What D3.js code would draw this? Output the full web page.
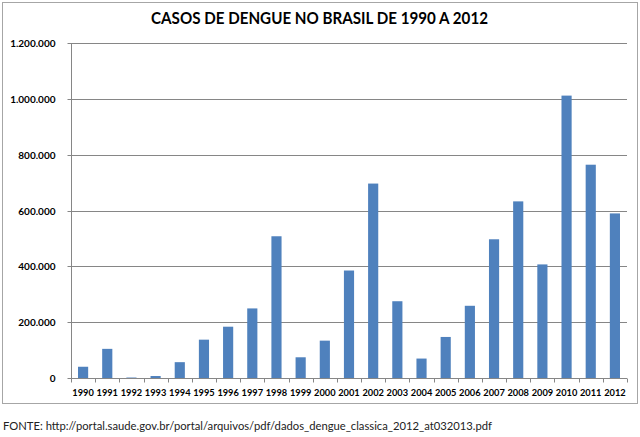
<!DOCTYPE html>
<html>
<head>
<meta charset="utf-8">
<script src="https://cdn.jsdelivr.net/npm/d3@7"></script>
<style>
html,body{margin:0;padding:0;background:#fff;}
svg{display:block;}
</style>
</head>
<body>
<svg id="chart" width="640" height="437"></svg>
<script>
const years = ["1990","1991","1992","1993","1994","1995","1996","1997","1998","1999","2000","2001","2002","2003","2004","2005","2006","2007","2008","2009","2010","2011","2012"];
const cases = [40279,104398,1696,7086,56691,137308,183762,249239,507715,74219,133800,385000,696472,274975,69635,147039,258680,496923,632680,406882,1011548,764032,589591];
const yTicks = [0,200000,400000,600000,800000,1000000,1200000];
const titleText = "CASOS DE DENGUE NO BRASIL DE 1990 A 2012";
const sourceText = "FONTE: http://portal.saude.gov.br/portal/arquivos/pdf/dados_dengue_classica_2012_at032013.pdf";

const svg = d3.select("#chart");
const font = "Lato, 'Open Sans', sans-serif";

// outer chart border
svg.append("rect").attr("x",2.5).attr("y",2.5).attr("width",635).attr("height",401)
  .attr("fill","#fff").attr("stroke","#a6a6a6").attr("stroke-width",1);

const x = d3.scaleBand().domain(years).range([71,627]).paddingInner(0.58).paddingOuter(0.29);
const y = d3.scaleLinear().domain([0,1200000]).range([378,43]);

const fmt = v => d3.format(",")(v).replace(/,/g,".");

// gridlines
svg.append("g").selectAll("line").data(yTicks.filter(d=>d>0)).join("line")
  .attr("x1",71).attr("x2",627)
  .attr("y1",d=>Math.round(y(d))+0.5).attr("y2",d=>Math.round(y(d))+0.5)
  .attr("stroke","#868686").attr("stroke-width",1);

// y axis
const yAxis = d3.axisLeft(y).tickValues(yTicks).tickFormat(fmt).tickSize(4).tickPadding(12);
const gy = svg.append("g").attr("transform","translate(71.5,0.5)").call(yAxis);
gy.select(".domain").attr("stroke","#868686").attr("d","M0,"+y(1200000)+"V"+y(0));
gy.selectAll(".tick line").attr("stroke","#868686");
gy.selectAll(".tick text").attr("font-family",font).attr("font-weight","bold")
  .attr("font-size","10px").attr("fill","#000");
gy.selectAll(".tick").attr("transform",d=>"translate(0,"+Math.round(y(d))+")");

// bars
svg.append("g").selectAll("rect").data(years.map((yr,i)=>({yr,v:cases[i]}))).join("rect")
  .attr("x",d=>x(d.yr)).attr("width",x.bandwidth())
  .attr("y",d=>y(d.v)).attr("height",d=>y(0)-y(d.v))
  .attr("fill","#4f81bd");

// x axis
const gx = svg.append("g").attr("transform","translate(0,"+(Math.round(y(0))+0.5)+")");
gx.append("line").attr("x1",71).attr("x2",627).attr("stroke","#868686");
const bounds = d3.range(years.length+1).map(i=>71 + (i)*(556/years.length));
gx.selectAll("line.tk").data(bounds).join("line").attr("class","tk")
  .attr("x1",d=>Math.round(d)+0.5).attr("x2",d=>Math.round(d)+0.5).attr("y1",0).attr("y2",4)
  .attr("stroke","#868686");
gx.selectAll("text").data(years).join("text")
  .attr("x",d=>x(d)+x.bandwidth()/2).attr("y",17)
  .attr("text-anchor","middle").attr("font-family",font).attr("font-weight","bold")
  .attr("font-size","10px").attr("textLength",21.5).attr("lengthAdjust","spacingAndGlyphs")
  .attr("fill","#000").text(d=>d);

// title
svg.append("text").attr("x",319.5).attr("y",24).attr("text-anchor","middle")
  .attr("font-family",font).attr("font-weight","bold").attr("font-size","17px")
  .attr("textLength",337).attr("lengthAdjust","spacingAndGlyphs")
  .attr("fill","#000").text(titleText);

// source
svg.append("text").attr("x",3).attr("y",430)
  .attr("font-family",font).attr("font-size","11px")
  .attr("textLength",489).attr("lengthAdjust","spacingAndGlyphs")
  .attr("fill","#222").text(sourceText);
</script>
</body>
</html>
